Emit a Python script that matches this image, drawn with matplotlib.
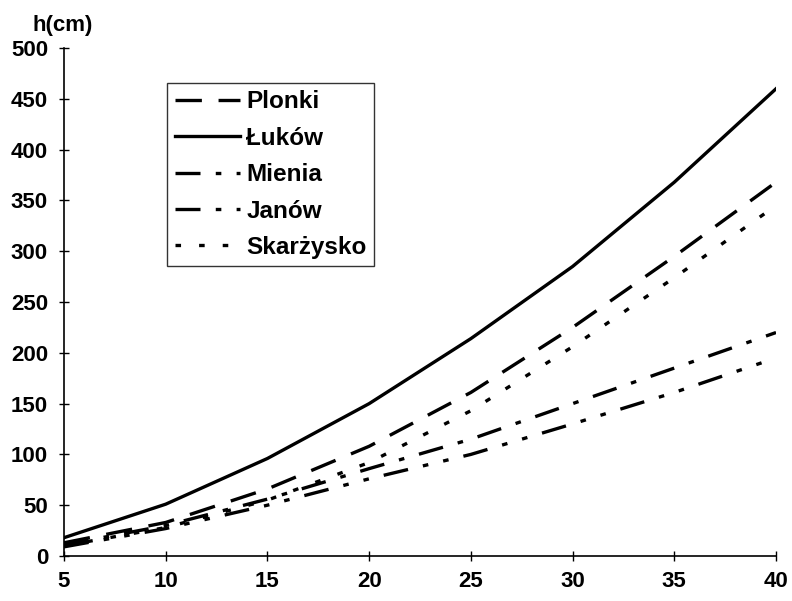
import numpy as np
import matplotlib.pyplot as plt

plt.rcParams['font.family'] = ['Liberation Sans', 'DejaVu Sans']
plt.rcParams['font.weight'] = 'bold'
plt.rcParams['lines.scale_dashes'] = False

# wiek (lata)
x = [5, 10, 15, 20, 25, 30, 35, 40]

# wysokosc h (cm)
plonki = [13, 33, 66, 108, 161, 225, 295, 368]
lukow = [18, 51, 96, 150, 214, 285, 368, 460]
mienia = [11, 30, 56, 86, 115, 150, 185, 220]
janow = [9, 27, 50, 76, 100, 130, 161, 195]
skarzysko = [10, 28, 55, 92, 143, 206, 274, 345]

xticks = [5, 10, 15, 20, 25, 30, 35, 40]
yticks = [0, 50, 100, 150, 200, 250, 300, 350, 400, 450, 500]

fig = plt.figure(figsize=(7.92, 6.01), dpi=100)
ax = fig.add_axes([0.0808, 0.0749, 0.899, 0.845])

lw = 2.4
ax.plot(x, plonki, 'k', lw=lw, dashes=(19, 12), label='Plonki')
ax.plot(x, lukow, 'k-', lw=lw, label='Łuków')
ax.plot(x, mienia, 'k', lw=lw, dashes=(18, 11, 4, 11), label='Mienia')
ax.plot(x, janow, 'k', lw=lw, dashes=(18, 11, 4, 11, 4, 11), label='Janów')
ax.plot(x, skarzysko, 'k', lw=lw, dashes=(4, 13), label='Skarżysko')

ax.set_xlim(5, 40)
ax.set_ylim(0, 500)
ax.set_xticks(xticks)
ax.set_yticks(yticks)
ax.spines['top'].set_visible(False)
ax.spines['right'].set_visible(False)
for s in ['left', 'bottom']:
    ax.spines[s].set_linewidth(1.2)
ax.tick_params(direction='inout', length=7, width=1.0, labelsize=16)
ax.tick_params(axis='y', pad=8)
ax.tick_params(axis='x', pad=7)
for lab in ax.get_xticklabels() + ax.get_yticklabels():
    lab.set_fontweight('bold')

fig.text(0.079, 0.958, 'h(cm)', ha='center', va='center', fontsize=16, fontweight='bold')

leg = ax.legend(loc='upper left', bbox_to_anchor=(0.145, 0.931), fontsize=17.5,
                frameon=True, fancybox=False, edgecolor='black', handlelength=2.7,
                handletextpad=0.25, labelspacing=0.55, borderpad=0.3, borderaxespad=0)
leg.get_frame().set_linewidth(1.0)
for t in leg.get_texts():
    t.set_fontweight('bold')

fig.savefig('out.png', dpi=100)
